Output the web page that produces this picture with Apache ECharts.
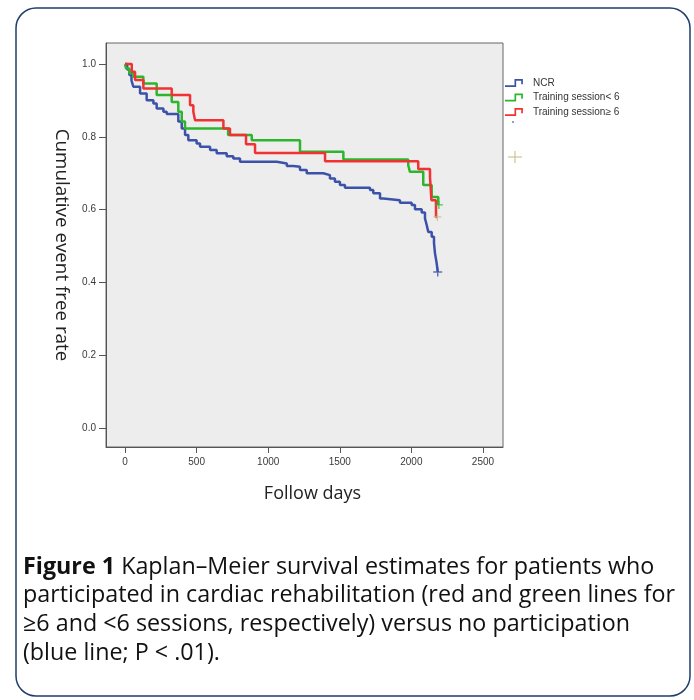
<!DOCTYPE html>
<html><head><meta charset="utf-8">
<script src="https://cdn.jsdelivr.net/npm/echarts@6/dist/echarts.min.js"></script>
<style>html,body{margin:0;padding:0;background:#fff}#c{width:694px;height:700px}</style>
</head><body><div id="c"></div>
<script>
// ---- data ----
const xTicks = [0, 500, 1000, 1500, 2000, 2500];
const yTicks = [0, 0.2, 0.4, 0.6, 0.8, 1.0];
const seriesNames = ['NCR', 'Training session< 6', 'Training session≥ 6'];
const ncr = [[0,1.0],[15,0.985],[30,0.97],[45,0.955],[58,0.938],[105,0.919],[151,0.901],[198,0.892],[221,0.878],[268,0.869],[291,0.863],[372,0.842],[396,0.823],[419,0.805],[442,0.791],[500,0.782],[524,0.773],[594,0.764],[640,0.755],[710,0.747],[756,0.741],[803,0.732],[1060,0.727],[1130,0.72],[1175,0.718],[1222,0.709],[1269,0.70],[1385,0.695],[1431,0.686],[1466,0.677],[1501,0.668],[1536,0.66],[1711,0.654],[1734,0.645],[1781,0.631],[1804,0.626],[1920,0.619],[2002,0.613],[2025,0.601],[2072,0.592],[2095,0.576],[2107,0.558],[2118,0.539],[2142,0.526],[2158,0.508],[2165,0.48],[2177,0.452],[2184,0.429]];
const lt6 = [[0,1.0],[7,0.988],[30,0.975],[58,0.965],[128,0.947],[221,0.915],[326,0.896],[372,0.869],[396,0.842],[419,0.823],[720,0.805],[885,0.791],[1222,0.759],[1525,0.738],[1978,0.722],[1990,0.704],[2083,0.668],[2142,0.635],[2188,0.613],[2192,0.613]];
const ge6 = [[0,1.0],[47,0.979],[70,0.956],[128,0.933],[326,0.915],[454,0.887],[477,0.869],[489,0.846],[687,0.823],[733,0.805],[845,0.78],[908,0.756],[1397,0.733],[2048,0.712],[2130,0.69],[2140,0.626],[2172,0.58],[2180,0.58]];
const censorNcr = [[2184, 0.429]];
const censorLt6 = [[2192, 0.613]];
const censorGe6 = [[2182, 0.58]];
const captionLines = [
  '{b|Figure 1} Kaplan–Meier survival estimates for patients who',
  'participated in cardiac rehabilitation (red and green lines for',
  '≥6 and <6 sessions, respectively) versus no participation',
  '(blue line; P < .01).'
];

// ---- chart ----
const colors = ['#3b52a8', '#2eb52e', '#f03232'];
const censorColors = ['#3b52a8', '#2eb52e', '#c9bb86'];
const plusPath = 'path://M4.2,0 L5.8,0 L5.8,4.2 L10,4.2 L10,5.8 L5.8,5.8 L5.8,10 L4.2,10 L4.2,5.8 L0,5.8 L0,4.2 L4.2,4.2 Z';
const stepIcon = 'path://M0,6 L9,6 L9,0 L17,0 L17,5 L15.4,5 L15.4,1.6 L10.6,1.6 L10.6,7.6 L0,7.6 Z';
const capFont = '"Open Sans", sans-serif';
const tickFont = '"Liberation Sans", Arial, sans-serif';
const capSize = 23.3;

const chart = echarts.init(document.getElementById('c'), null, {renderer: 'canvas'});
const option = {
  animation: false,
  backgroundColor: '#fff',
  grid: {left: 106, top: 43, right: 191, bottom: 253, show: true, backgroundColor: '#ededee', borderColor: '#666', borderWidth: 1},
  legend: {
    orient: 'vertical', left: 505, top: 77, padding: 0, itemWidth: 18, itemHeight: 8, itemGap: 2.5,
    icon: stepIcon, data: seriesNames,
    textStyle: {fontSize: 10, color: '#333', fontFamily: tickFont, lineHeight: 12, padding: [0, 0, 0, 5]}
  },
  xAxis: {
    type: 'value', min: -133, max: 2640,
    name: 'Follow days', nameLocation: 'middle', nameGap: 38,
    nameTextStyle: {fontSize: 18, color: '#222', fontFamily: capFont, padding: [0, 0, 0, 16]},
    axisLine: {show: true, onZero: false, lineStyle: {color: '#555', width: 1}},
    axisTick: {show: true, length: 6, lineStyle: {color: '#555'}, customValues: xTicks},
    axisLabel: {show: true, margin: 10, fontSize: 10, color: '#3a3a3a', fontFamily: tickFont, customValues: xTicks, formatter: v => String(v)},
    splitLine: {show: false}
  },
  yAxis: {
    type: 'value', min: -0.052, max: 1.058,
    name: 'Cumulative event free rate', nameLocation: 'middle', nameGap: 34, nameRotate: -90,
    nameTextStyle: {fontSize: 18.8, color: '#222', fontFamily: capFont},
    axisLine: {show: true, onZero: false, lineStyle: {color: '#555', width: 1}},
    axisTick: {show: true, length: 7, lineStyle: {color: '#555'}, customValues: yTicks},
    axisLabel: {show: true, margin: 10, fontSize: 10, color: '#3a3a3a', fontFamily: tickFont, customValues: yTicks, formatter: v => v.toFixed(1)},
    splitLine: {show: false}
  },
  series: [
    {name: seriesNames[0], type: 'line', step: 'end', data: ncr, symbol: 'none', color: colors[0], lineStyle: {width: 2.5, color: colors[0]}, z: 3},
    {name: seriesNames[1], type: 'line', step: 'end', data: lt6, symbol: 'none', color: colors[1], lineStyle: {width: 2.5, color: colors[1]}, z: 4},
    {name: seriesNames[2], type: 'line', step: 'end', data: ge6, symbol: 'none', color: colors[2], lineStyle: {width: 2.5, color: colors[2]}, z: 5},
    {name: 'c0', type: 'scatter', data: censorNcr, symbol: plusPath, symbolSize: 9, itemStyle: {color: censorColors[0]}, z: 6},
    {name: 'c1', type: 'scatter', data: censorLt6, symbol: plusPath, symbolSize: 8, itemStyle: {color: censorColors[1]}, z: 6},
    {name: 'c2', type: 'scatter', data: censorGe6, symbol: plusPath, symbolSize: 8, itemStyle: {color: censorColors[2]}, z: 6}
  ],
  graphic: [
    {type: 'rect', shape: {x: 16, y: 8, width: 674, height: 688, r: 20}, style: {fill: 'none', stroke: '#1f3d6e', lineWidth: 1.5}, z: 100},
    {type: 'circle', shape: {cx: 513, cy: 122, r: 1}, style: {fill: '#6b7bc0'}},
    {type: 'line', shape: {x1: 508, y1: 157, x2: 522, y2: 157}, style: {stroke: '#cfc493', lineWidth: 1.2}},
    {type: 'line', shape: {x1: 515, y1: 151, x2: 515, y2: 163}, style: {stroke: '#cfc493', lineWidth: 1.2}}
  ].concat(captionLines.map((t, i) => ({
    type: 'text', x: 23, y: 567 + i * 28.7,
    style: {text: t, fill: '#111', fontSize: capSize, fontFamily: capFont, verticalAlign: 'middle', align: 'left',
      rich: {b: {fontWeight: 'bold', fontSize: capSize, fontFamily: capFont, fill: '#111'}}}
  })))
};
chart.setOption(option);
</script></body></html>
